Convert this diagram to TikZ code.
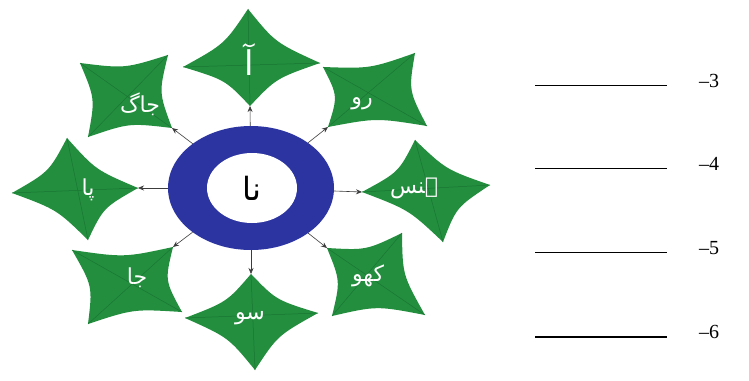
\documentclass[tikz,border=0pt]{standalone}
\usepackage{fontspec}
\setmainfont{Liberation Serif}
\newfontfamily\urdu[Script=Arabic]{DejaVu Sans}
\TeXXeTstate=1
\usetikzlibrary{shapes.geometric,arrows.meta,calc}
\definecolor{kitegreen}{RGB}{34,142,62}
\definecolor{kiteline}{RGB}{26,118,50}
\definecolor{ringblue}{RGB}{44,52,162}
\definecolor{arrowgrey}{RGB}{60,60,60}
% kite: name, four corners (clockwise)
\newcommand\drawkite[5]{%
  \coordinate (#1a) at (#2);
  \coordinate (#1b) at (#3);
  \coordinate (#1c) at (#4);
  \coordinate (#1d) at (#5);
  \coordinate (#1o) at ($0.25*(#1a)+0.25*(#1b)+0.25*(#1c)+0.25*(#1d)$);
  \fill[kitegreen]
    (#1a) .. controls ($0.37*(#1a)+0.37*(#1b)+0.26*(#1o)$) .. (#1b)
          .. controls ($0.37*(#1b)+0.37*(#1c)+0.26*(#1o)$) .. (#1c)
          .. controls ($0.37*(#1c)+0.37*(#1d)+0.26*(#1o)$) .. (#1d)
          .. controls ($0.37*(#1d)+0.37*(#1a)+0.26*(#1o)$) .. (#1a) -- cycle;
  \draw[kiteline, line width=0.5pt] (#1a) -- (#1c) (#1b) -- (#1d);
}
\begin{document}
\begin{tikzpicture}[x=1pt, y=-1pt,
  utext/.style={text=white, inner sep=1pt, font=\urdu\fontsize{22}{24}\selectfont},
  arr/.style={draw=arrowgrey, line width=0.6pt, -{Stealth[length=6pt,width=5pt]}},
  blank/.style={draw=black, line width=0.8pt},
  num/.style={anchor=base west, inner sep=0pt, font=\fontsize{20}{22}\selectfont}]
\useasboundingbox (0,0) rectangle (749,380);
\fill[white] (0,0) rectangle (749,380);

% kites
\drawkite{A}{248,9}{320,63}{250,106}{183,67}
\drawkite{R}{323,67}{415,53}{427,126}{328,127}
\drawkite{H}{415,140}{490,185}{443,242}{362,192}
\drawkite{K}{327,248}{402,233}{425,315}{332,316}
\drawkite{S}{251,274}{318,313}{255,370}{185,318}
\drawkite{J}{72,250}{173,247}{182,312}{88,324}
\drawkite{P}{67,138}{138,188}{88,240}{12,193}
\drawkite{G}{80,63}{168,55}{172,128}{88,137}

% ring
\node[ellipse, fill=ringblue, minimum width=166pt, minimum height=124pt, inner sep=0pt] (ring) at (251,188) {};
\node[ellipse, fill=white, minimum width=90pt, minimum height=70pt, inner sep=0pt,
      font=\urdu\fontsize{32}{34}\selectfont] (hole) at (252,188) {\beginR نا\endR};

% words
\node[utext, font=\urdu\fontsize{34}{36}\selectfont] (tA) at (249,60) {\beginR آ\endR};
\node[utext] (tR) at (362,104) {\beginR رو\endR};
\node[utext] (tH) at (414,188) {\beginR ہنس\endR};
\node[utext] (tK) at (368,276) {\beginR کھو\endR};
\node[utext] (tS) at (250,318) {\beginR سو\endR};
\node[utext] (tJ) at (137,278) {\beginR جا\endR};
\node[utext] (tP) at (88,190) {\beginR پا\endR};
\node[utext] (tG) at (140,104) {\beginR جاگ\endR};

% connectors
\draw[arr] (ring) -- (Ac);
\draw[arr] (ring) -- (Rd);
\draw[arr] (ring) -- (Hd);
\draw[arr] (ring) -- (Ka);
\draw[arr] (ring) -- (Sa);
\draw[arr] (ring) -- (Jb);
\draw[arr] (ring) -- (Pb);
\draw[arr] (ring) -- (Gc);

% blanks
\coordinate (l3a) at (535,85);  \coordinate (l3b) at (667,85);
\coordinate (l4a) at (535,168); \coordinate (l4b) at (667,168);
\coordinate (l5a) at (535,252); \coordinate (l5b) at (667,252);
\coordinate (l6a) at (535,337); \coordinate (l6b) at (667,337);
\draw[blank] (l3a) -- (l3b);
\draw[blank] (l4a) -- (l4b);
\draw[blank] (l5a) -- (l5b);
\draw[blank, line width=1.5pt] (l6a) -- (l6b);
\node[num] (n3) at (699,87) {–3};
\node[num] (n4) at (699,170) {–4};
\node[num] (n5) at (699,254) {–5};
\node[num] (n6) at (699,338) {–6};
\end{tikzpicture}
\end{document}
